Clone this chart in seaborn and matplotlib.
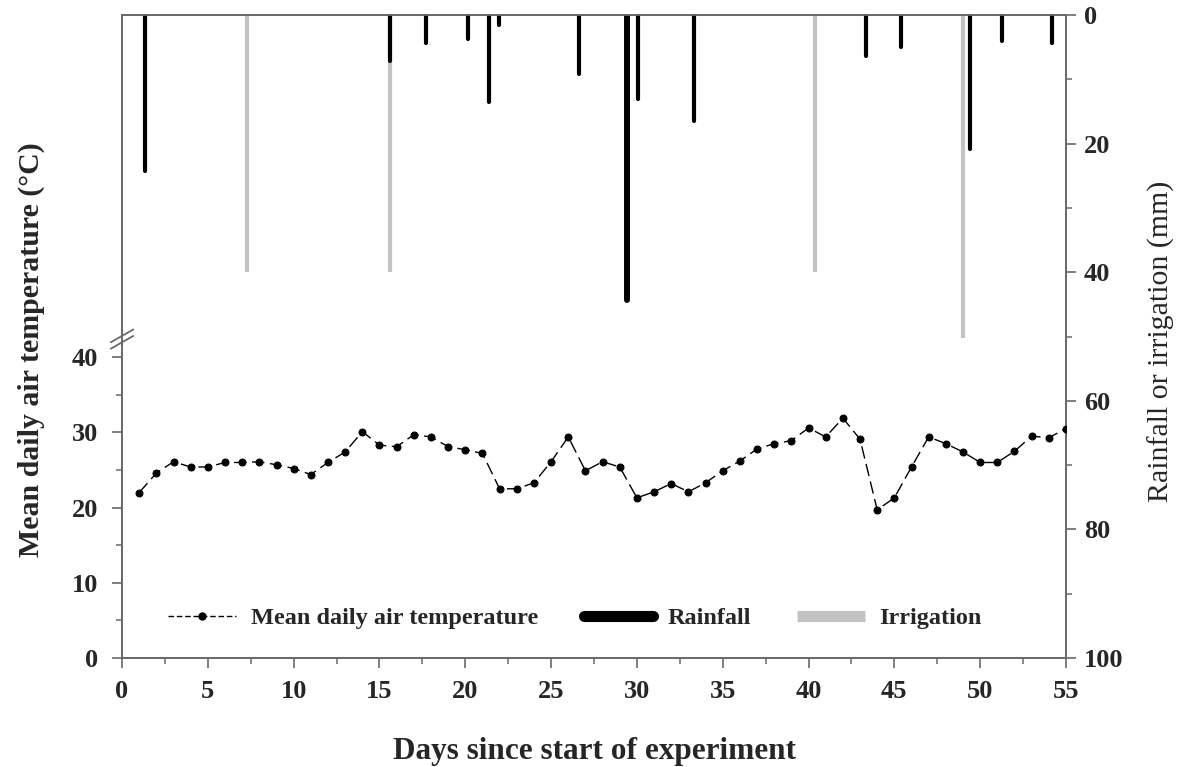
import matplotlib
matplotlib.use("Agg")
import matplotlib.pyplot as plt
from matplotlib.lines import Line2D
from matplotlib.ticker import MultipleLocator, FixedLocator
import seaborn as sns
import pandas as pd
import numpy as np

# ---------------- data ----------------
days = list(range(1, 56))
temperature = [22.0, 24.6, 26.1, 25.4, 25.4, 26.0, 26.0, 26.1, 25.7, 25.2,
               24.4, 26.0, 27.4, 30.1, 28.3, 28.1, 29.7, 29.4, 28.1, 27.7,
               27.2, 22.5, 22.5, 23.3, 26.1, 29.4, 24.9, 26.1, 25.4, 21.3,
               22.1, 23.2, 22.1, 23.3, 24.9, 26.2, 27.8, 28.5, 28.9, 30.6,
               29.4, 31.9, 29.1, 19.7, 21.3, 25.4, 29.4, 28.5, 27.4, 26.0,
               26.0, 27.5, 29.5, 29.3, 30.5]

rain_day = [1.35, 15.62, 17.73, 20.17, 21.41, 21.94, 26.6, 29.4, 30.08,
            33.3, 43.35, 45.4, 49.43, 51.3, 54.2]
rain_mm = [24.2, 7.1, 4.3, 3.8, 13.5, 1.6, 9.2, 44.3, 13.1,
           16.5, 6.3, 5.0, 20.8, 4.1, 4.4]

irr_day = [7.29, 15.62, 40.4, 48.98]
irr_mm = [40.0, 40.0, 40.0, 50.2]

x_ticks = [0, 5, 10, 15, 20, 25, 30, 35, 40, 45, 50, 55]
temp_ticks = [0, 10, 20, 30, 40]
rain_ticks = [0, 20, 40, 60, 80, 100]

# ---------------- style ----------------
sns.set_theme(style="ticks")
plt.rcParams["font.family"] = ["Liberation Serif", "DejaVu Serif"]
plt.rcParams["font.weight"] = "bold"
spine_col = "#6a6a6a"

fig = plt.figure(figsize=(11.86, 7.67), dpi=100)
ax = fig.add_axes([0.1029, 0.1421, 0.7959, 0.8383])
ax2 = ax.twinx()

# irrigation + rainfall bars (hanging from top on inverted right axis)
ax2.vlines(irr_day, 0, irr_mm, colors="#c3c3c3", linewidth=3.0, capstyle="butt", zorder=2)
widths = [4.3 if v > 40 else 3.0 for v in rain_mm]
ax2.vlines(rain_day, 0, rain_mm, colors="black", linewidth=widths, capstyle="round", zorder=3)
ax2.set_ylim(100, 0)

# temperature line
df = pd.DataFrame({"day": days, "temp": temperature})
sns.lineplot(data=df, x="day", y="temp", ax=ax, color="black", marker="o",
             markersize=5, markeredgecolor="black", linewidth=1.0, zorder=4)
line = ax.lines[-1]
line.set_linestyle((0, (9, 4)))

ax.set_zorder(ax2.get_zorder() + 1)
ax.patch.set_visible(False)

ax.set_xlim(0, 55)
ax.set_ylim(0, 85.5)
ax.xaxis.set_major_locator(FixedLocator(x_ticks))
ax.xaxis.set_minor_locator(MultipleLocator(2.5))
ax.yaxis.set_major_locator(FixedLocator(temp_ticks))
ax.yaxis.set_minor_locator(FixedLocator([5, 15, 25, 35]))
ax2.yaxis.set_major_locator(FixedLocator(rain_ticks))
ax2.yaxis.set_minor_locator(FixedLocator([10, 30, 50, 70, 90]))

for a in (ax, ax2):
    for s in a.spines.values():
        s.set_color(spine_col)
        s.set_linewidth(1.3)
        s.set_visible(True)
ax.tick_params(axis="both", which="major", direction="out", length=7, width=1.2,
               color=spine_col, labelsize=19)
ax.tick_params(axis="y", which="major", pad=10)
ax.tick_params(axis="x", which="major", pad=9)
ax.tick_params(axis="both", which="minor", direction="out", length=4.5, width=1.1,
               color=spine_col)
ax2.tick_params(axis="y", which="major", direction="out", length=7, width=1.2,
                color=spine_col, labelsize=19, pad=6)
ax2.tick_params(axis="y", which="minor", direction="out", length=4.5, width=1.1,
                color=spine_col)
for lab in ax.get_xticklabels() + ax.get_yticklabels() + ax2.get_yticklabels():
    lab.set_fontweight("bold")

ax.set_xlabel("Days since start of experiment", fontsize=22.5, fontweight="bold", labelpad=24)
ax.set_ylabel("Mean daily air temperature (°C)", fontsize=21.5, fontweight="bold")
ax2.set_ylabel("Rainfall or irrigation (mm)", fontsize=21.5, fontweight="normal")
ax.yaxis.set_label_coords(-0.082, 0.479)
ax2.yaxis.set_label_coords(1.087, 0.492)

# axis break marks on left spine
for dy in (0.0, 0.010):
    ax.plot([-0.012, 0.012], [0.481 + dy, 0.501 + dy], transform=ax.transAxes,
            color=spine_col, lw=1.3, clip_on=False, zorder=10)

# legend
handles = [
    Line2D([], [], color="black", linestyle=(0, (4, 2)), linewidth=1.0, marker="o", markersize=5),
    Line2D([], [], color="black", linewidth=8, solid_capstyle="round"),
    Line2D([], [], color="#c3c3c3", linewidth=8, solid_capstyle="butt"),
]
labels = ["Mean daily air temperature", "Rainfall", "Irrigation"]
leg = ax.legend(handles, labels, loc="center", bbox_to_anchor=(0.48, 0.062), ncol=3,
                frameon=False, prop={"size": 17.5, "weight": "bold"}, handlelength=2.8,
                handletextpad=0.6, columnspacing=1.9)

fig.savefig("out.png", dpi=100)
